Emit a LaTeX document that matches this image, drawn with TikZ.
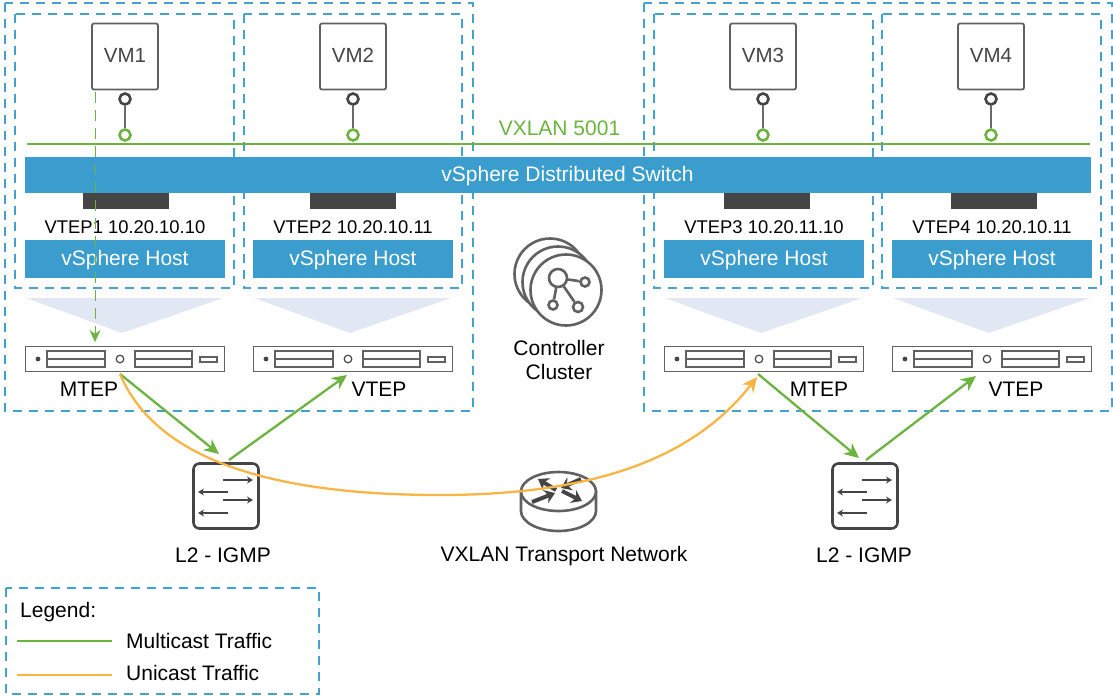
\documentclass[tikz,border=0pt]{standalone}
\usepackage{fontspec}
\setmainfont{Liberation Sans}
\usetikzlibrary{arrows.meta,calc}
\definecolor{dashblue}{HTML}{45A2CF}
\definecolor{barblue}{HTML}{3A9DCE}
\definecolor{dgreen}{HTML}{6CB33F}
\definecolor{dorange}{HTML}{F9B544}
\definecolor{dark}{HTML}{454545}
\definecolor{tri}{HTML}{E2E8F3}
\tikzset{
  dbox/.style={draw=dashblue,line width=1.1pt,dash pattern=on 9pt off 7pt},
  vmbox/.style={draw=dark!85,line width=1.8pt,rounded corners=2pt,fill=white,minimum width=66pt,minimum height=66pt,inner sep=0pt,text=dark,font=\fontsize{20.5}{20.5}\selectfont},
  bar/.style={fill=barblue,draw=none,inner sep=0pt,text=white,font=\fontsize{21}{21}\selectfont},
  port/.style={circle,draw=dark,line width=2.6pt,fill=white,minimum size=11pt,inner sep=0pt},
  gport/.style={circle,draw=dgreen,line width=2.6pt,fill=white,minimum size=11pt,inner sep=0pt},
  lbl/.style={inner sep=0pt,text=black,font=\fontsize{21}{21}\selectfont},
  sm/.style={inner sep=0pt,text=black,font=\fontsize{18.4}{18.4}\selectfont},
  stem/.style={draw=dark!80,line width=2pt},
  dev/.style={draw=dark!85,line width=1.9pt},
  gline/.style={draw=dgreen,line width=2.3pt},
  oline/.style={draw=dorange,line width=2.3pt},
  garrow/.style={gline,-{Stealth[length=15pt,width=14pt]}},
  oarrow/.style={oline,-{Stealth[length=15pt,width=14pt]}},
  swarrow/.style={draw=dark,line width=2.6pt,-{Stealth[length=6pt,width=7pt]}},
  rtarrow/.style={draw=dark,line width=4pt,-{Stealth[length=10pt,width=14pt]}},
}
\newcommand{\hostcol}[6]{% id, vm centre x, vm name, vtep text, host left, dark plate left
  \node[vmbox] (vm#1) at (#2,56.5) {\raisebox{2pt}{#3}};
  \node[port] (p#1) at (#2,99) {};
  \node[gport] (g#1) at (#2,135) {};
  \draw[stem] (p#1) -- (g#1);
  \fill[dark] (#6,193) rectangle ({#6+86},209);
  \node[sm] (vt#1) at ({#5+100},227) {#4};
  \node[bar,minimum width=200pt,minimum height=38pt,text height=15pt,text depth=2.5pt] (h#1) at ({#5+100},259) {vSphere Host};
  \fill[tri] ({#5+1},298) -- ({#5+198},298) -- ({#5+97},333) -- cycle;
  \node[dev,draw,fill=white,minimum width=199pt,minimum height=25pt,inner sep=0pt] (s#1) at ({#5+100},359) {};
  \fill[dark] ({#5+13},359) circle (2.4);
  \draw[dev] ({#5+22},351) rectangle ({#5+80},367);
  \draw[dev] ({#5+22},359) -- ({#5+80},359);
  \draw[dark,line width=1.2pt] ({#5+95},359) circle (3.8);
  \draw[dev] ({#5+110},351) rectangle ({#5+167},367);
  \draw[dev] ({#5+110},359) -- ({#5+167},359);
  \draw[dark!85,line width=1.5pt] ({#5+175},357) rectangle ({#5+192},362);
}
\newcommand{\switchicon}[2]{% id, left x
  \node[draw=dark,line width=2.6pt,rounded corners=6pt,minimum width=65pt,minimum height=65pt,inner sep=0pt] (sw#1) at ({#2+33},496) {};
  \draw[swarrow] ({#2+30},480) -- ({#2+60},480);
  \draw[swarrow] ({#2+35},492) -- ({#2+5},492);
  \draw[swarrow] ({#2+30},500) -- ({#2+60},500);
  \draw[swarrow] ({#2+35},513) -- ({#2+5},513);
}
\begin{document}
\begin{tikzpicture}[x=1pt,y=-1pt]
\useasboundingbox (0,0) rectangle (1113,697);
% dashed groups
\draw[dbox] (5,3) rectangle (473,411);
\draw[dbox] (644,3) rectangle (1112,411);
\draw[dbox] (15,14) rectangle (234,288);
\draw[dbox] (244,14) rectangle (462,288);
\draw[dbox] (654,14) rectangle (873,288);
\draw[dbox] (882,14) rectangle (1101,288);
% distributed switch
\hostcol{1}{125}{VM1}{VTEP1 10.20.10.10}{25}{83}
\hostcol{2}{353}{VM2}{VTEP2 10.20.10.11}{253}{310}
\hostcol{3}{763}{VM3}{VTEP3 10.20.11.10}{664}{724}
\hostcol{4}{991}{VM4}{VTEP4 10.20.10.11}{892}{951}
\node[bar,minimum width=1066pt,minimum height=36pt,anchor=center] (dvs) at (558,175) {};
\node[inner sep=0pt,text=white,font=\fontsize{21}{21}\selectfont] (dvst) at (567.5,176) {vSphere Distributed Switch};
\coordinate (bl) at (27,144);
\coordinate (br) at (1090,144);
\draw[gline] (bl) -- (br);
\node[inner sep=0pt,text=dgreen,font=\fontsize{21}{21}\selectfont] (vx) at (559.5,128) {VXLAN 5001};
% server labels
\node[lbl] (m1) at (89,389) {MTEP};
\node[lbl] (v2) at (379,389) {VTEP};
\node[lbl] (m3) at (819,389) {MTEP};
\node[lbl] (v4) at (1016,389) {VTEP};
% controller
\draw[dark!85,line width=2.6pt,fill=white] (550,274) circle (35.5);
\draw[dark!85,line width=2.6pt,fill=white] (558,282) circle (35.5);
\draw[dark!85,line width=2.6pt,fill=white] (566,290) circle (35.5);
\node[circle,draw=dark!85,line width=2.6pt,minimum size=18pt,inner sep=0pt] (c0) at (558,278) {};
\node[circle,draw=dark!85,line width=2.6pt,minimum size=9pt,inner sep=0pt] (c1) at (585,282) {};
\node[circle,draw=dark!85,line width=2.6pt,minimum size=9pt,inner sep=0pt] (c2) at (553,305) {};
\node[circle,draw=dark!85,line width=2.6pt,minimum size=10pt,inner sep=0pt] (c3) at (578,307) {};
\draw[dark!85,line width=2.6pt] (c0) -- (c1);
\draw[dark!85,line width=2.6pt] (c0) -- (c2);
\draw[dark!85,line width=2.6pt] (c0) -- (c3);
\node[lbl,align=center,font=\fontsize{21}{24}\selectfont] (cc) at (559,360) {Controller\\Cluster};
% switches
\switchicon{a}{193}
\switchicon{b}{832}
\node[lbl] (swal) at (223,555) {L2 - IGMP};
\node[lbl] (swbl) at (864,555) {L2 - IGMP};
% router
\draw[dark!85,line width=2.6pt,fill=white] (521,491) -- (521,511) arc[start angle=180,end angle=0,x radius=37.5,y radius=20] -- (596,491);
\draw[dark!85,line width=2.6pt,fill=white] (558.5,491.5) ellipse (37.5 and 19.5);
\draw[rtarrow] (556,490) -- (538,479);
\draw[rtarrow] (581,479) -- (561,488);
\draw[rtarrow] (532,502) -- (555,493);
\draw[rtarrow] (562,491) -- (582,501);
\node[lbl] (rl) at (564,556) {VXLAN Transport Network};
% traffic
\coordinate (a1) at (120,374);
\coordinate (a2) at (219,454);
\coordinate (a3) at (229,460);
\coordinate (a4) at (347,375);
\coordinate (b1) at (758,374);
\coordinate (b2) at (859,458);
\coordinate (b3) at (866,460);
\coordinate (b4) at (976,376);
\draw[garrow] (a1) -- (a2);
\draw[garrow] (a3) -- (a4);
\draw[garrow] (b1) -- (b2);
\draw[garrow] (b3) -- (b4);
\draw[oarrow] (a1) .. controls (150,445) and (240,495) .. (440,495) .. controls (610,495) and (700,450) .. (757,377);
\coordinate (d1) at (95,92);
\coordinate (d2) at (95,342);
\draw[draw=dgreen,line width=1pt,dash pattern=on 11pt off 7pt,-{Stealth[length=12pt,width=11pt]}] (d1) -- (d2);
% legend
\draw[dbox] (6,588) rectangle (319,694);
\node[lbl,anchor=west] (lg) at (20,612) {Legend:};
\coordinate (l1) at (17,641);
\coordinate (l2) at (112,641);
\coordinate (l3) at (17,675);
\coordinate (l4) at (112,675);
\draw[draw=dgreen,line width=1.9pt] (l1) -- (l2);
\draw[draw=dorange,line width=1.9pt] (l3) -- (l4);
\node[lbl,anchor=west] (lm) at (126,641) {Multicast Traffic};
\node[lbl,anchor=west] (lu) at (126,673) {Unicast Traffic};
\end{tikzpicture}
\end{document}
